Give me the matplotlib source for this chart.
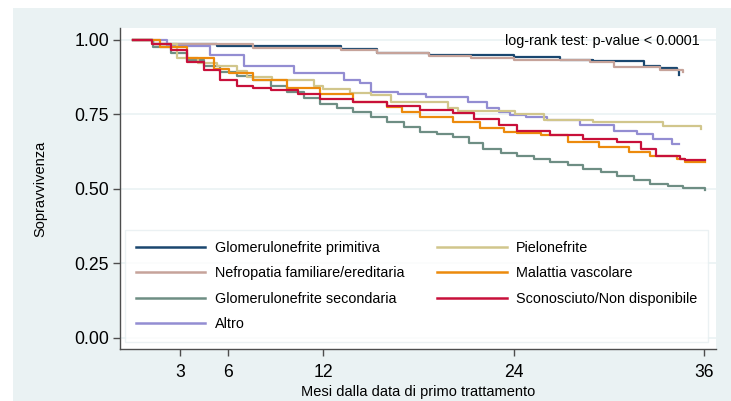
import matplotlib
matplotlib.use("Agg")
import matplotlib.pyplot as plt
from matplotlib.patches import Rectangle

plt.rcParams['font.family'] = ['Liberation Sans', 'DejaVu Sans']

# Kaplan-Meier estimates by primary renal disease (months, survival)
gp_t = [0, 1.3, 5.3, 13.1, 15.4, 18.7, 24.0, 26.9, 29.0, 32.2, 33.2, 34.3, 34.4]
gp_s = [1.0, 0.987, 0.978, 0.968, 0.957, 0.948, 0.942, 0.933, 0.928, 0.914, 0.905, 0.898, 0.881]

nf_t = [0, 1.3, 7.6, 13.1, 15.4, 18.7, 21.3, 24.0, 28.8, 30.3, 33.2, 34.7]
nf_s = [1.0, 0.987, 0.972, 0.965, 0.957, 0.946, 0.940, 0.933, 0.926, 0.909, 0.900, 0.894]

gs_t = [0, 1.3, 2.4, 3.4, 4.5, 5.5, 6.6, 7.6, 8.7, 9.7, 10.8, 11.8, 12.9, 13.9, 15.0,
        16.0, 17.1, 18.1, 19.2, 20.2, 21.2, 22.1, 23.2, 24.2, 25.3, 26.3, 27.4, 28.4,
        29.5, 30.5, 31.6, 32.6, 33.7, 34.7, 36.05]
gs_s = [1.0, 0.976, 0.955, 0.931, 0.912, 0.892, 0.878, 0.864, 0.845, 0.825, 0.805, 0.786,
        0.772, 0.758, 0.740, 0.724, 0.708, 0.691, 0.683, 0.674, 0.655, 0.635, 0.622, 0.612,
        0.601, 0.590, 0.579, 0.568, 0.556, 0.545, 0.531, 0.517, 0.510, 0.504, 0.497]

al_t = [0, 2.2, 4.9, 7.0, 10.2, 13.3, 14.3, 15.0, 16.7, 18.5, 21.1, 22.3, 23.1, 23.8,
        24.8, 26.1, 28.2, 30.3, 31.8, 32.8, 34.0, 34.4]
al_s = [1.0, 0.980, 0.948, 0.914, 0.889, 0.867, 0.854, 0.824, 0.817, 0.808, 0.791, 0.773,
        0.758, 0.747, 0.740, 0.730, 0.713, 0.696, 0.686, 0.669, 0.652, 0.652]

pn_t = [0, 1.2, 2.8, 4.1, 5.3, 6.6, 7.2, 8.8, 11.4, 12.0, 13.7, 15.0, 16.3, 19.9, 20.5,
        24.1, 25.9, 29.0, 33.4, 35.8]
pn_s = [1.0, 0.985, 0.940, 0.922, 0.914, 0.895, 0.877, 0.864, 0.847, 0.837, 0.821, 0.814,
        0.791, 0.770, 0.761, 0.750, 0.732, 0.723, 0.711, 0.700]

mv_t = [0, 1.7, 3.4, 5.1, 6.1, 7.6, 9.7, 11.8, 13.9, 16.0, 17.0, 18.1, 20.2, 21.9, 23.4,
        24.2, 25.7, 27.4, 29.4, 31.3, 32.6, 34.3, 34.8, 36.05]
mv_s = [1.0, 0.975, 0.938, 0.904, 0.888, 0.867, 0.840, 0.820, 0.791, 0.775, 0.758, 0.743,
        0.724, 0.703, 0.691, 0.687, 0.680, 0.657, 0.640, 0.624, 0.612, 0.601, 0.589, 0.589]

sc_t = [0, 1.2, 2.4, 3.4, 4.5, 5.5, 6.6, 7.6, 8.7, 10.4, 11.8, 13.9, 16.0, 18.1, 20.2,
        21.5, 23.1, 24.2, 26.3, 28.4, 30.5, 32.0, 33.0, 34.5, 34.8, 36.05]
sc_s = [1.0, 0.985, 0.965, 0.926, 0.898, 0.864, 0.847, 0.840, 0.833, 0.819, 0.803, 0.791,
        0.777, 0.766, 0.754, 0.736, 0.713, 0.696, 0.680, 0.668, 0.657, 0.635, 0.612, 0.601,
        0.596, 0.596]

labels = ["Glomerulonefrite primitiva", "Nefropatia familiare/ereditaria",
          "Glomerulonefrite secondaria", "Altro", "Pielonefrite",
          "Malattia vascolare", "Sconosciuto/Non disponibile"]
colors = ["#1A476F", "#C6A39A", "#6E8E84", "#938DD2", "#D1C68C", "#EC8A0C", "#C8103A"]
series = [(gp_t, gp_s), (nf_t, nf_s), (gs_t, gs_s), (al_t, al_s),
          (pn_t, pn_s), (mv_t, mv_s), (sc_t, sc_s)]

x_ticks = [3, 6, 12, 24, 36]
y_ticks = [0.0, 0.25, 0.50, 0.75, 1.00]

W, H = 731, 401
fig = plt.figure(figsize=(W / 100, H / 100), dpi=100)
fig.patch.set_facecolor("white")
fig.patches.append(Rectangle((13 / W, 0), 1 - 13 / W, (H - 8) / H,
                             transform=fig.transFigure, facecolor="#EAF2F3",
                             edgecolor="none", zorder=-10))

ax = fig.add_axes([120 / W, (H - 349) / H, (716 - 120) / W, (349 - 28) / H])
ax.set_zorder(1)
ax.set_facecolor("white")

for (t, s), c, lab in zip(series, colors, labels):
    ax.step(t, s, where="post", color=c, lw=1.6, label=lab, zorder=3)

ax.set_xlim(-0.79, 36.75)
ax.set_ylim(-0.037, 1.04)
ax.set_xticks(x_ticks)
ax.set_yticks(y_ticks)
ax.set_yticklabels([f"{v:.2f}" for v in y_ticks])
ax.yaxis.grid(True, color="#EAF2F3", lw=1.2, zorder=0)
ax.set_axisbelow(True)

for side in ("top", "right"):
    ax.spines[side].set_visible(False)
for side in ("left", "bottom"):
    ax.spines[side].set_color("#4D4D4D")
    ax.spines[side].set_linewidth(1.0)
ax.tick_params(axis="both", direction="out", length=5, width=1.0, color="#4D4D4D",
               labelsize=12.7, labelcolor="black")
ax.tick_params(axis="x", pad=6)
ax.tick_params(axis="y", pad=3)

ax.set_ylabel("Sopravvivenza", fontsize=10.5, labelpad=19)
ax.set_xlabel("Mesi dalla data di primo trattamento", fontsize=10.5, labelpad=3)

ax.text(0.972, 0.9595, "log-rank test: p-value < 0.0001", transform=ax.transAxes,
        ha="right", va="center", fontsize=10.4)

leg = ax.legend(loc="lower left", bbox_to_anchor=(0.0084, 0.021, 0.9786, 0.349),
                mode="expand", ncol=2, fontsize=10.4, frameon=True, fancybox=False,
                handlelength=4.8, handletextpad=0.65, labelspacing=0.8,
                borderpad=0.75, borderaxespad=0)
leg.get_frame().set_edgecolor("#E6EEF0")
leg.get_frame().set_linewidth(1.0)
for line in leg.get_lines():
    line.set_linewidth(1.8)

fig.savefig("out.png", dpi=100)
